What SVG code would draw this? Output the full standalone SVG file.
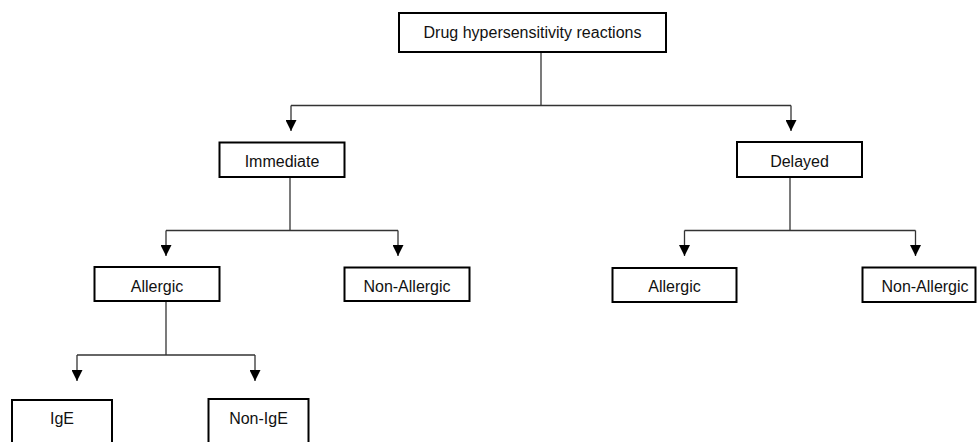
<svg xmlns="http://www.w3.org/2000/svg" width="979" height="442" viewBox="0 0 979 442">
<style>
.box{fill:#fff;stroke:#000;stroke-width:2}
.lbl{font-family:"Liberation Sans",Arial,sans-serif;font-size:16px;fill:#111;text-anchor:middle}
.conn{fill:none;stroke:#333;stroke-width:1.3}
</style>
<defs>
<marker id="arr" markerUnits="userSpaceOnUse" markerWidth="11" markerHeight="11" viewBox="0 0 11 11" refX="11" refY="5.5" orient="auto">
<path d="M0,0 L11,5.5 L0,11 z" fill="#000"/>
</marker>
</defs>
<rect width="979" height="442" fill="#fff"/>
<g id="connectors">
<path class="conn" d="M541,52 V105.5"/>
<path class="conn" d="M291,105.5 H791"/>
<path class="conn" d="M291,105.5 V131" marker-end="url(#arr)"/>
<path class="conn" d="M791,105.5 V131" marker-end="url(#arr)"/>
<path class="conn" d="M290,177 V230.5"/>
<path class="conn" d="M166,230.5 H398"/>
<path class="conn" d="M166,230.5 V256" marker-end="url(#arr)"/>
<path class="conn" d="M398,230.5 V256" marker-end="url(#arr)"/>
<path class="conn" d="M790,177 V230.5"/>
<path class="conn" d="M684.5,230.5 H915.5"/>
<path class="conn" d="M684.5,230.5 V256" marker-end="url(#arr)"/>
<path class="conn" d="M915.5,230.5 V256" marker-end="url(#arr)"/>
<path class="conn" d="M166,301 V355"/>
<path class="conn" d="M77,355 H255"/>
<path class="conn" d="M77,355 V381" marker-end="url(#arr)"/>
<path class="conn" d="M255,355 V381" marker-end="url(#arr)"/>
</g>
<g id="root">
<rect class="box" x="399" y="13" width="267" height="39"/>
<text class="lbl" x="532.5" y="38">Drug hypersensitivity reactions</text>
</g>
<g id="immediate">
<rect class="box" x="219.5" y="142.5" width="125" height="34.5"/>
<text class="lbl" x="282" y="166.5">Immediate</text>
</g>
<g id="delayed">
<rect class="box" x="737" y="142" width="125" height="35"/>
<text class="lbl" x="799.5" y="166.5">Delayed</text>
</g>
<g id="imm-allergic">
<rect class="box" x="94.5" y="267" width="125" height="34"/>
<text class="lbl" x="157" y="291.5">Allergic</text>
</g>
<g id="imm-nonallergic">
<rect class="box" x="344.5" y="267.5" width="125" height="33.5"/>
<text class="lbl" x="407" y="292">Non-Allergic</text>
</g>
<g id="del-allergic">
<rect class="box" x="612.5" y="268" width="124" height="34"/>
<text class="lbl" x="674.5" y="292">Allergic</text>
</g>
<g id="del-nonallergic">
<rect class="box" x="862.5" y="267.5" width="113" height="34.5"/>
<text class="lbl" x="925" y="292">Non-Allergic</text>
</g>
<g id="ige">
<rect class="box" x="12" y="400" width="100" height="46"/>
<text class="lbl" x="62" y="424">IgE</text>
</g>
<g id="non-ige">
<rect class="box" x="208.5" y="399" width="100" height="47"/>
<text class="lbl" x="258.5" y="424">Non-IgE</text>
</g>
</svg>
